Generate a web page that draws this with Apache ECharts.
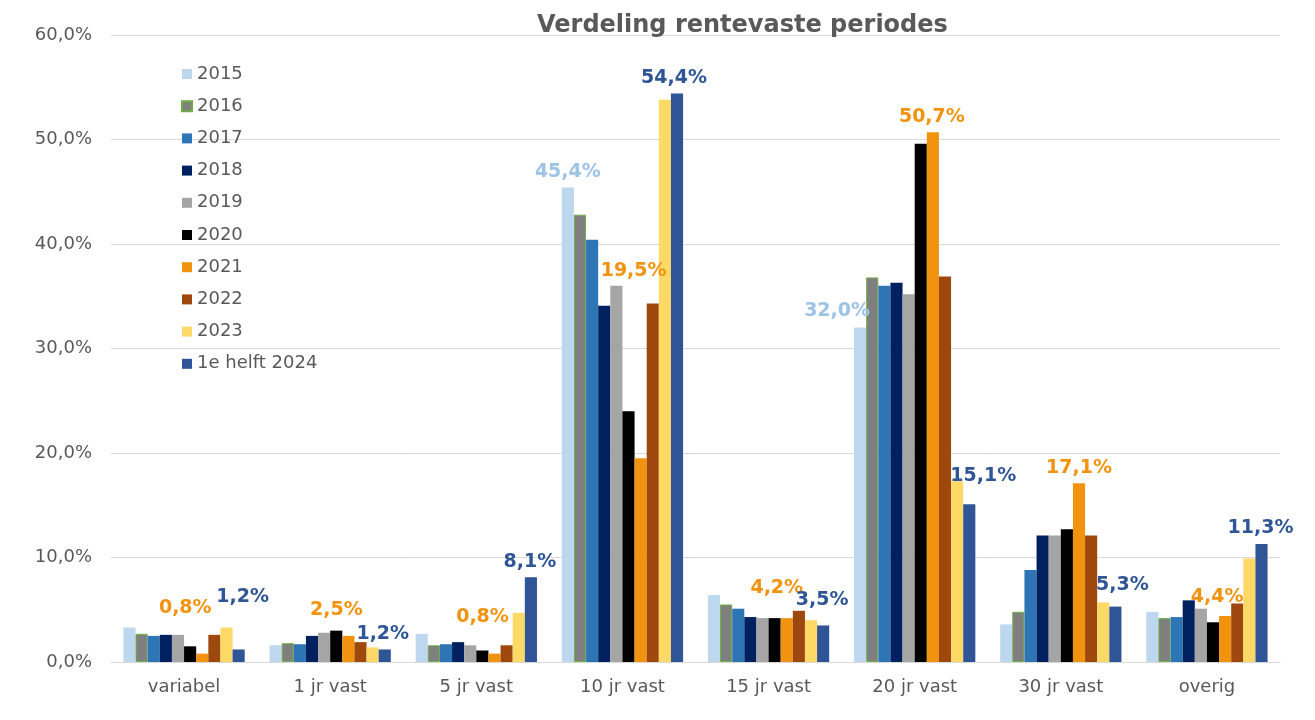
<!DOCTYPE html>
<html>
<head>
<meta charset="utf-8">
<script src="https://cdn.jsdelivr.net/npm/echarts@6/dist/echarts.min.js"></script>
<style>html,body{margin:0;padding:0;background:#fff;}#c{width:1315px;height:720px;}</style>
</head>
<body>
<div id="c"></div>
<script>
const categories = ['variabel', '1 jr vast', '5 jr vast', '10 jr vast', '15 jr vast', '20 jr vast', '30 jr vast', 'overig'];
const seriesNames = ['2015', '2016', '2017', '2018', '2019', '2020', '2021', '2022', '2023', '1e helft 2024'];
const v2015 = [3.3, 1.6, 2.7, 45.4, 6.4, 32.0, 3.6, 4.8];
const v2016 = [2.7, 1.8, 1.6, 42.8, 5.5, 36.8, 4.8, 4.2];
const v2017 = [2.5, 1.7, 1.7, 40.4, 5.1, 36.0, 8.8, 4.3];
const v2018 = [2.6, 2.5, 1.9, 34.1, 4.3, 36.3, 12.1, 5.9];
const v2019 = [2.6, 2.8, 1.6, 36.0, 4.2, 35.2, 12.1, 5.1];
const v2020 = [1.5, 3.0, 1.1, 24.0, 4.2, 49.6, 12.7, 3.8];
const v2021 = [0.8, 2.5, 0.8, 19.5, 4.2, 50.7, 17.1, 4.4];
const v2022 = [2.6, 1.9, 1.6, 34.3, 4.9, 36.9, 12.1, 5.6];
const v2023 = [3.3, 1.4, 4.7, 53.8, 4.0, 17.3, 5.7, 9.9];
const v2024 = [1.2, 1.2, 8.1, 54.4, 3.5, 15.1, 5.3, 11.3];
const yMin = 0, yMax = 60, yStep = 10;

const allValues = [v2015, v2016, v2017, v2018, v2019, v2020, v2021, v2022, v2023, v2024];

// styling
const colors = ['#BDD7EE', '#7F7F7F', '#2E75B6', '#002060', '#A5A5A5', '#000000', '#F2930F', '#9E480E', '#FFD966', '#2F5597'];
const labelColors = { 0: '#9DC3E6', 6: '#F2930F', 9: '#2F5597' };
// per-series label placement (category index -> [dx, dy])
const labelOffsets = {
  0: { 3: [0, 0], 5: [-23, -1] },
  6: { 0: [-17, -30], 1: [-12, -10], 2: [-12, -21], 3: [-7, -172], 4: [-10, -15], 5: [-1, 0], 6: [0, 0], 7: [-8, -3] },
  9: { 0: [4, -37], 1: [-2, 0], 2: [-1, 0], 3: [-3, 0], 4: [-1, -10], 5: [14, -13], 6: [7, -6], 7: [-1, 0] }
};
const FONT = 'DejaVu Sans, Verdana, sans-serif';
const fmtPct = v => v.toFixed(1).replace('.', ',') + '%';

const series = seriesNames.map((name, si) => {
  const offs = labelOffsets[si] || {};
  return {
    name: name,
    type: 'bar',
    barGap: '0%',
    barCategoryGap: '17%',
    itemStyle: si === 1 ? { color: colors[si], borderColor: '#70AD47', borderWidth: 1 } : { color: colors[si] },
    data: allValues[si].map((v, ci) => {
      const item = { value: v };
      if (offs[ci]) {
        item.label = {
          show: true,
          position: 'top',
          distance: 6,
          offset: offs[ci],
          formatter: p => fmtPct(p.value),
          color: labelColors[si],
          fontFamily: FONT,
          fontWeight: 'bold',
          fontSize: 19
        };
      }
      return item;
    }),
    label: { show: false }
  };
});

const chart = echarts.init(document.getElementById('c'), null, { renderer: 'canvas' });
chart.setOption({
  animation: false,
  backgroundColor: '#ffffff',
  title: {
    text: 'Verdeling rentevaste periodes',
    left: 532,
    top: 9,
    textStyle: { fontFamily: FONT, fontWeight: 'bold', fontSize: 24, color: '#595959' }
  },
  legend: {
    orient: 'vertical',
    left: 176,
    top: 60,
    itemWidth: 10,
    itemHeight: 10,
    itemGap: 14.2,
    icon: 'rect',
    data: seriesNames,
    textStyle: { fontFamily: FONT, fontSize: 18, color: '#595959', lineHeight: 16 }
  },
  grid: { left: 111, right: 35, top: 35, bottom: 58, containLabel: false },
  xAxis: {
    type: 'category',
    data: categories,
    axisLine: { show: true, lineStyle: { color: '#D9D9D9', width: 1 } },
    axisTick: { show: false },
    axisLabel: { fontFamily: FONT, fontSize: 18, color: '#595959', margin: 16 }
  },
  yAxis: {
    type: 'value',
    min: yMin,
    max: yMax,
    interval: yStep,
    axisLine: { show: false },
    axisTick: { show: false },
    splitLine: { lineStyle: { color: '#D9D9D9', width: 1 } },
    axisLabel: { fontFamily: FONT, fontSize: 18, color: '#595959', margin: 19, formatter: v => fmtPct(v) }
  },
  series: series
});
</script>
</body>
</html>
